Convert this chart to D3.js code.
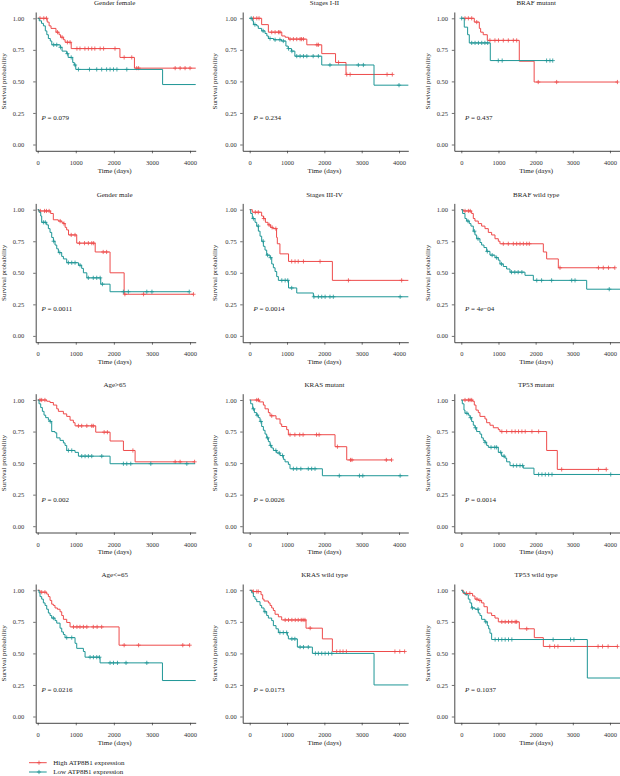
<!DOCTYPE html>
<html><head><meta charset="utf-8">
<script src="https://cdn.jsdelivr.net/npm/d3@7"></script>
<style>
body{margin:0;background:#fff}
svg{display:block}
text{font-family:"Liberation Serif","Times New Roman",serif}
</style>
</head><body>
<svg id="chart" width="620" height="776"></svg>
<script>
// ---------- DATA ----------
const panelTitles = ["Gender female","Stages I-II","BRAF mutant","Gender male","Stages III-IV","BRAF wild type","Age>65","KRAS mutant","TP53 mutant","Age<=65","KRAS wild type","TP53 wild type"];
const pValues = ["0.079","0.234","0.437","0.0011","0.0014","4e\u221204","0.002","0.0026","0.0014","0.0216","0.0173","0.1037"];
const xTicks = [0,1000,2000,3000,4000];
const yTicks = [0,0.25,0.5,0.75,1];
const groupNames = ["High ATP8B1 expression","Low ATP8B1 expression"];

// [time (days), survival after step]; censor times
const femaleHigh = [[0,1],[250,0.97],[300,0.94],[350,0.92],[480,0.89],[560,0.87],[600,0.85],[680,0.83],[720,0.81],[880,0.76],[2160,0.69],[2540,0.605],[4150,0.605]];
const femaleHighCens = [60,160,230,520,640,780,850,1030,1110,1240,1330,1420,1500,1640,1730,2030,2270,2470,2600,2650,3610,3740,3870,4000];
const femaleLow = [[0,1],[40,0.98],[100,0.96],[150,0.94],[200,0.90],[240,0.87],[280,0.84],[330,0.82],[370,0.79],[590,0.77],[640,0.74],[760,0.72],[800,0.69],[920,0.65],[960,0.63],[1000,0.595],[3280,0.475],[4150,0.475]];
const femaleLowCens = [420,500,600,780,880,980,1070,1360,1550,1680,1810,1900,1990,2080,2340];

const stagesEarlyHigh = [[0,1],[320,0.95],[500,0.89],[860,0.86],[950,0.85],[1040,0.835],[1530,0.79],[1930,0.72],[2300,0.65],[2580,0.555]];
const stagesEarlyHighCens = [100,190,250,590,680,770,810,1080,1170,1260,1350,1390,1440,1800,1840,2380,2600,2690,3680,3820];
const stagesEarlyLow = [[0,1],[70,0.98],[100,0.95],[190,0.94],[230,0.92],[320,0.90],[410,0.88],[460,0.86],[500,0.84],[640,0.83],[850,0.82],[970,0.78],[1030,0.76],[1120,0.74],[1210,0.70],[1930,0.63],[3330,0.47],[4250,0.47]];
const stagesEarlyLowCens = [40,140,360,545,680,810,900,1040,1130,1260,1350,1440,1530,1700,1840,2150,2910,3045,4000];

const brafMutHigh = [[0,1],[350,0.97],[485,0.92],[520,0.89],[590,0.87],[700,0.825],[1560,0.66],[1960,0.495]];
const brafMutHighCens = [100,190,280,415,770,905,1000,1130,1265,1400,1490,2070,2565,4200];
const brafMutLow = [[0,1],[80,0.93],[170,0.87],[215,0.805],[780,0.665]];
const brafMutLowCens = [10,280,370,460,550,635,710,995,1100,2295,2385,2460];

const maleHigh = [[0,1],[30,0.99],[340,0.97],[410,0.92],[540,0.91],[630,0.90],[675,0.89],[720,0.86],[760,0.84],[810,0.80],[1025,0.735],[1510,0.665],[1900,0.50],[2270,0.33]];
const maleHighCens = [70,180,230,300,590,690,880,980,1100,1230,1330,1420,1470,1720,1810,2290,2780,4090];
const maleLow = [[0,1],[35,0.98],[80,0.95],[105,0.90],[236,0.88],[280,0.85],[324,0.82],[368,0.78],[412,0.75],[455,0.72],[500,0.69],[543,0.66],[630,0.63],[675,0.61],[762,0.58],[1070,0.56],[1155,0.535],[1200,0.50],[1290,0.46],[1655,0.41],[1900,0.35]];
const maleLowCens = [150,200,420,580,806,894,981,1112,1330,1460,1550,1640,1700,2250,2380,2865,3000,3980];

const stagesLateHigh = [[0,1],[70,0.98],[320,0.95],[370,0.93],[420,0.90],[490,0.88],[560,0.86],[620,0.85],[720,0.78],[740,0.73],[810,0.65],[1040,0.59],[2215,0.44],[4250,0.44]];
const stagesLateHighCens = [150,230,380,520,600,700,1125,1215,1300,1440,1885,2645,4070];
const stagesLateLow = [[0,1],[27,0.97],[71,0.93],[143,0.90],[188,0.87],[232,0.83],[277,0.79],[321,0.75],[366,0.71],[410,0.68],[455,0.64],[545,0.62],[590,0.57],[634,0.54],[679,0.51],[723,0.47],[768,0.44],[1040,0.38],[1260,0.34],[1705,0.31],[4250,0.31]];
const stagesLateLowCens = [100,230,360,480,560,860,950,1020,1125,1720,1840,1930,2020,2150,2240,4030];

const brafWtHigh = [[0,1],[54,0.99],[278,0.97],[323,0.93],[368,0.91],[457,0.89],[547,0.87],[637,0.85],[727,0.82],[816,0.80],[906,0.77],[996,0.75],[1040,0.73],[2207,0.665],[2296,0.61],[2610,0.54]];
const brafWtHighCens = [100,190,240,1130,1265,1400,1490,1580,1670,1760,1830,2655,3690,3820,3960,4130];
const brafWtLow = [[0,1],[36,0.97],[99,0.93],[144,0.91],[215,0.89],[260,0.87],[323,0.83],[368,0.80],[413,0.77],[502,0.74],[547,0.72],[610,0.70],[682,0.67],[771,0.64],[906,0.62],[996,0.60],[1040,0.57],[1130,0.55],[1220,0.53],[1310,0.505],[1713,0.48],[1938,0.44],[3373,0.37],[4270,0.37]];
const brafWtLowCens = [180,350,450,700,830,950,1080,1350,1440,1530,1630,2030,2160,2430,2970,3060,3980];

const ageOldHigh = [[0,1],[237,0.99],[324,0.98],[412,0.96],[500,0.93],[543,0.91],[675,0.89],[762,0.87],[850,0.84],[937,0.82],[981,0.795],[1524,0.745],[1901,0.675],[2251,0.60],[2558,0.51]];
const ageOldHighCens = [60,105,190,1070,1155,1290,1420,1460,1745,1830,2500,3610,3740,4120];
const ageOldLow = [[0,1],[35,0.97],[79,0.94],[123,0.91],[166,0.88],[210,0.86],[280,0.84],[324,0.83],[368,0.75],[455,0.74],[500,0.70],[587,0.68],[675,0.66],[718,0.64],[762,0.60],[981,0.585],[1069,0.555],[1901,0.495],[4135,0.495]];
const ageOldLowCens = [330,806,894,1156,1244,1331,1419,1682,2251,2339,2444,2970,3916];

const krasMutHigh = [[0,1],[259,0.985],[366,0.96],[411,0.93],[500,0.90],[545,0.875],[705,0.85],[813,0.81],[857,0.79],[991,0.765],[1036,0.725],[2286,0.63],[2599,0.525]];
const krasMutHighCens = [190,235,590,1080,1210,1340,1430,1790,1860,2350,2700,2740,3660,3800];
const krasMutLow = [[0,1],[27,0.97],[80,0.93],[125,0.90],[188,0.88],[232,0.86],[277,0.83],[321,0.79],[366,0.76],[411,0.73],[455,0.70],[500,0.67],[545,0.64],[589,0.62],[634,0.60],[723,0.58],[813,0.56],[902,0.53],[947,0.51],[1036,0.49],[1080,0.455],[1947,0.40],[4250,0.40]];
const krasMutLowCens = [100,200,300,480,560,700,790,880,1170,1260,1370,1570,1660,1750,2400,2940,3030,4030];

const tp53MutHigh = [[0,1],[305,0.99],[350,0.96],[395,0.92],[457,0.90],[502,0.87],[637,0.85],[682,0.82],[771,0.80],[861,0.78],[996,0.765],[1040,0.75],[2296,0.60],[2583,0.45]];
const tp53MutHighCens = [100,190,235,280,1090,1220,1360,1450,1540,1630,1720,1900,2080,2700,3690,3900];
const tp53MutLow = [[0,1],[27,0.97],[72,0.92],[99,0.895],[188,0.88],[233,0.86],[278,0.83],[323,0.80],[368,0.78],[413,0.75],[502,0.73],[547,0.70],[592,0.68],[637,0.665],[682,0.64],[727,0.625],[996,0.585],[1085,0.555],[1175,0.54],[1220,0.51],[1310,0.48],[1668,0.46],[1955,0.41],[4270,0.41]];
const tp53MutLowCens = [150,250,380,640,800,900,950,1060,1150,1400,1490,1580,1650,2080,2170,2260,2350,2440,4020];

const ageYoungHigh = [[0,1],[61,0.985],[237,0.97],[280,0.95],[324,0.92],[368,0.89],[412,0.88],[455,0.86],[517,0.85],[587,0.83],[631,0.80],[675,0.77],[762,0.745],[850,0.71],[2137,0.565]];
const ageYoungHighCens = [105,190,940,1030,1110,1200,1290,1460,1560,1680,2270,2650,3810,3990];
const ageYoungLow = [[0,1],[35,0.98],[61,0.95],[105,0.93],[149,0.90],[193,0.88],[237,0.85],[280,0.82],[324,0.80],[368,0.78],[455,0.76],[500,0.74],[587,0.70],[631,0.67],[675,0.65],[718,0.625],[981,0.58],[1025,0.54],[1200,0.515],[1244,0.47],[1638,0.425],[3276,0.285],[4150,0.285]];
const ageYoungLowCens = [412,762,894,1375,1463,1550,1620,1900,1990,2095,2320,2865];

const krasWtHigh = [[0,1],[80,0.99],[304,0.965],[348,0.93],[384,0.915],[500,0.90],[545,0.88],[589,0.86],[634,0.84],[679,0.81],[768,0.79],[857,0.765],[1509,0.70],[1947,0.615],[2215,0.515]];
const krasWtHighCens = [100,190,230,950,1040,1130,1220,1300,1380,1430,1480,1620,2330,2420,2500,2590,3890,4020,4150];
const krasWtLow = [[0,1],[54,0.98],[98,0.95],[143,0.93],[188,0.91],[277,0.88],[321,0.86],[384,0.83],[455,0.80],[500,0.78],[589,0.76],[634,0.72],[705,0.695],[768,0.665],[1009,0.64],[1036,0.615],[1277,0.55],[1679,0.50],[3331,0.25],[4250,0.25]];
const krasWtLowCens = [410,810,900,990,1130,1210,1350,1440,1570,1760,1840,1930,2020,2110,2200];

const tp53WtHigh = [[0,1],[54,0.975],[305,0.955],[368,0.93],[457,0.92],[547,0.90],[610,0.87],[700,0.82],[816,0.80],[906,0.78],[996,0.75],[1561,0.695],[1964,0.625],[2207,0.555]];
const tp53WtHighCens = [140,230,420,500,1090,1180,1270,1360,1450,1490,1760,2380,2510,2600,3680,3800,3950,4200];
const tp53WtLow = [[0,1],[36,0.985],[99,0.965],[188,0.93],[233,0.90],[278,0.86],[368,0.85],[457,0.82],[502,0.80],[547,0.77],[637,0.75],[700,0.72],[736,0.695],[771,0.66],[816,0.61],[3391,0.305],[4270,0.305]];
const tp53WtLowCens = [300,450,660,910,1000,1090,1180,1270,1360,2470,2940,3030];

const panelCurves = [
  [femaleHigh,femaleHighCens,femaleLow,femaleLowCens],
  [stagesEarlyHigh,stagesEarlyHighCens,stagesEarlyLow,stagesEarlyLowCens],
  [brafMutHigh,brafMutHighCens,brafMutLow,brafMutLowCens],
  [maleHigh,maleHighCens,maleLow,maleLowCens],
  [stagesLateHigh,stagesLateHighCens,stagesLateLow,stagesLateLowCens],
  [brafWtHigh,brafWtHighCens,brafWtLow,brafWtLowCens],
  [ageOldHigh,ageOldHighCens,ageOldLow,ageOldLowCens],
  [krasMutHigh,krasMutHighCens,krasMutLow,krasMutLowCens],
  [tp53MutHigh,tp53MutHighCens,tp53MutLow,tp53MutLowCens],
  [ageYoungHigh,ageYoungHighCens,ageYoungLow,ageYoungLowCens],
  [krasWtHigh,krasWtHighCens,krasWtLow,krasWtLowCens],
  [tp53WtHigh,tp53WtHighCens,tp53WtLow,tp53WtLowCens]
];

// ---------- LAYOUT ----------
const colors = ["#EE4B4B","#1E9696"];
const colAxisX = [35.7, 242.7, 454.3];
const colZeroX = [37.7, 249.7, 461.3];
const colPer1000 = [38.08, 37.33, 37.17];
const colRight = [195.7, 408.3, 620];
const colLabelGap = [9, 3.5, 3.8];
const colYTitleX = [4, 215, 428.3];
const rowTop = [18.3, 209.7, 400, 590.3];
const unitH = 126.2;

const svg = d3.select("#chart");

function survAt(steps, t){
  let s = steps[0][1];
  for (const st of steps){ if (st[0] <= t) s = st[1]; else break; }
  return s;
}

panelTitles.forEach((title, i) => {
  const c = i % 3, r = Math.floor(i / 3);
  const k = colPer1000[c] / 1000;
  const xmin = (colAxisX[c] - colZeroX[c]) / k;
  const xmax = (colRight[c] - colZeroX[c]) / k;
  const x = d3.scaleLinear().domain([xmin, xmax]).range([colAxisX[c], colRight[c]]);
  const top = rowTop[r];
  const y = d3.scaleLinear().domain([-0.05, 1.05]).range([top + unitH * 1.05, top - unitH * 0.05]);
  const g = svg.append("g");

  // axes
  const yAxis = d3.axisLeft(y).tickValues(yTicks).tickFormat(d3.format(".2f"))
    .tickSize(2.5).tickSizeOuter(0).tickPadding(colLabelGap[c]);
  const ya = g.append("g").attr("transform", `translate(${colAxisX[c]},0)`).call(yAxis);
  const xAxis = d3.axisBottom(x).tickValues(xTicks).tickFormat(d3.format("d"))
    .tickSize(2.5).tickSizeOuter(0).tickPadding(7);
  const xa = g.append("g").attr("transform", `translate(0,${y(-0.05)})`).call(xAxis);
  [ya, xa].forEach(a => {
    a.select(".domain").attr("stroke", "#333").attr("stroke-width", 0.9);
    a.selectAll(".tick line").attr("stroke", "#333").attr("stroke-width", 0.7);
    a.selectAll(".tick text").attr("fill", "#333").style("font-size", "6.5px")
      .style("font-family", '"Liberation Serif",serif');
  });

  // titles
  g.append("text").attr("x", (colAxisX[c] + colRight[c]) / 2 - 1).attr("y", top - 13)
    .attr("text-anchor", "middle").style("font-size", "7px").attr("fill", "#222").text(title);
  g.append("text").attr("x", (colAxisX[c] + colRight[c]) / 2 - 1).attr("y", y(-0.05) + 21.8)
    .attr("text-anchor", "middle").style("font-size", "7px").attr("fill", "#222").text("Time (days)");
  g.append("text").attr("transform", `translate(${colYTitleX[c]},${y(0.5)}) rotate(-90)`)
    .attr("text-anchor", "middle").attr("dominant-baseline", "central")
    .style("font-size", "7px").attr("fill", "#222").text("Survival probability");

  // p value
  const pt = g.append("text").attr("x", x(100)).attr("y", y(0.21)).attr("dominant-baseline", "central")
    .style("font-size", "7px").attr("fill", "#222");
  pt.append("tspan").style("font-style", "italic").text("P");
  pt.append("tspan").text(" = " + pValues[i]);

  // curves
  const curves = panelCurves[i];
  const line = d3.line().x(d => x(d[0])).y(d => y(d[1])).curve(d3.curveStepAfter);
  [0, 1].forEach(gi => {
    const steps = curves[gi * 2].slice();
    const cens = curves[gi * 2 + 1];
    const end = Math.max(steps[steps.length - 1][0], d3.max(cens));
    if (end > steps[steps.length - 1][0]) steps.push([end, steps[steps.length - 1][1]]);
    g.append("path").attr("d", line(steps)).attr("fill", "none")
      .attr("stroke", colors[gi]).attr("stroke-width", 1);
    const m = 2.1;
    g.append("g").selectAll("path").data(cens).join("path")
      .attr("d", t => {
        const px = x(t), py = y(survAt(steps, t));
        return `M${px - m},${py}H${px + m}M${px},${py - m}V${py + m}`;
      })
      .attr("stroke", colors[gi]).attr("stroke-width", 0.8).attr("fill", "none");
  });
});

// legend
const legY = [762.7, 772];
groupNames.forEach((name, gi) => {
  const lg = svg.append("g");
  lg.append("line").attr("x1", 29).attr("x2", 46.7).attr("y1", legY[gi]).attr("y2", legY[gi])
    .attr("stroke", colors[gi]).attr("stroke-width", 1);
  lg.append("path").attr("d", `M${39 - 2.1},${legY[gi]}H${39 + 2.1}M39,${legY[gi] - 2.1}V${legY[gi] + 2.1}`)
    .attr("stroke", colors[gi]).attr("stroke-width", 0.8);
  lg.append("text").attr("x", 53.3).attr("y", legY[gi]).attr("dominant-baseline", "central")
    .style("font-size", "7px").attr("fill", "#222").text(name);
});
</script>
</body></html>
